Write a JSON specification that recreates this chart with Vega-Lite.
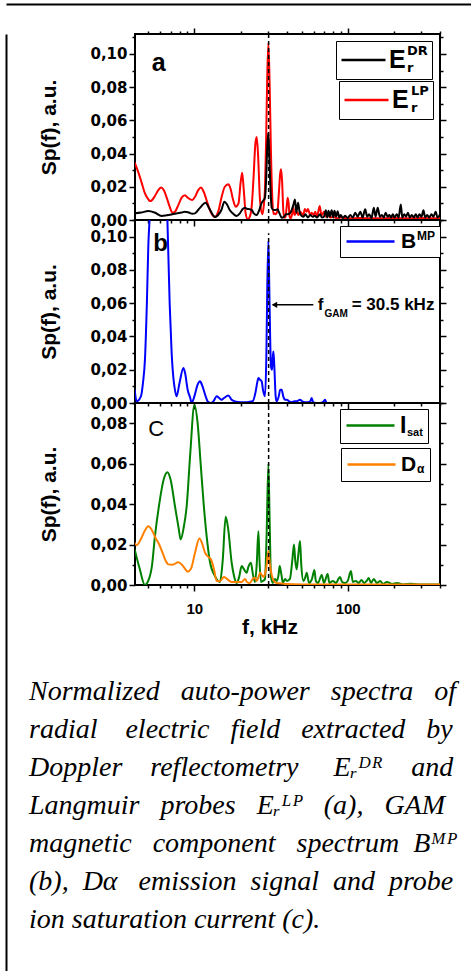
{
  "$schema": "https://vega.github.io/schema/vega-lite/v6.json",
  "padding": {"left": 6, "top": 4, "right": 0, "bottom": 0},
  "background": "white",
  "spacing": 0,
  "datasets": {
    "a": [
      {"s":"LP","f":4.08,"v":0.0345},{"s":"LP","f":4.3,"v":0.029},{"s":"LP","f":4.53,"v":0.0225},{"s":"LP","f":4.76,"v":0.016},{"s":"LP","f":5.01,"v":0.0125},{"s":"LP","f":5.13,"v":0.0114},{"s":"LP","f":5.27,"v":0.0118},{"s":"LP","f":5.53,"v":0.0145},{"s":"LP","f":5.82,"v":0.018},{"s":"LP","f":6.06,"v":0.0195},{"s":"LP","f":6.31,"v":0.018},{"s":"LP","f":6.6,"v":0.0135},{"s":"LP","f":6.9,"v":0.008},{"s":"LP","f":7.19,"v":0.0044},{"s":"LP","f":7.47,"v":0.005},{"s":"LP","f":7.86,"v":0.009},{"s":"LP","f":8.26,"v":0.0135},{"s":"LP","f":8.68,"v":0.0149},{"s":"LP","f":9.04,"v":0.0135},{"s":"LP","f":9.7,"v":0.012},{"s":"LP","f":10.1,"v":0.014},{"s":"LP","f":10.6,"v":0.018},{"s":"LP","f":11.04,"v":0.0195},{"s":"LP","f":11.5,"v":0.017},{"s":"LP","f":12.2,"v":0.01},{"s":"LP","f":12.9,"v":0.004},{"s":"LP","f":13.63,"v":0.0018},{"s":"LP","f":14.3,"v":0.005},{"s":"LP","f":15.07,"v":0.014},{"s":"LP","f":15.8,"v":0.02},{"s":"LP","f":16.67,"v":0.0215},{"s":"LP","f":17.2,"v":0.019},{"s":"LP","f":17.9,"v":0.012},{"s":"LP","f":18.6,"v":0.008},{"s":"LP","f":19.4,"v":0.01},{"s":"LP","f":20.0,"v":0.022},{"s":"LP","f":20.5,"v":0.0285},{"s":"LP","f":21.0,"v":0.018},{"s":"LP","f":21.6,"v":0.004},{"s":"LP","f":22.3,"v":0.0004},{"s":"LP","f":23.0,"v":0.002},{"s":"LP","f":23.65,"v":0.008},{"s":"LP","f":24.3,"v":0.025},{"s":"LP","f":25.0,"v":0.046},{"s":"LP","f":25.49,"v":0.05},{"s":"LP","f":26.0,"v":0.04},{"s":"LP","f":26.8,"v":0.012},{"s":"LP","f":27.77,"v":0.0034},{"s":"LP","f":28.3,"v":0.008},{"s":"LP","f":28.9,"v":0.02},{"s":"LP","f":29.4,"v":0.05},{"s":"LP","f":29.85,"v":0.085},{"s":"LP","f":30.39,"v":0.1068},{"s":"LP","f":30.99,"v":0.08},{"s":"LP","f":31.6,"v":0.04},{"s":"LP","f":32.27,"v":0.012},{"s":"LP","f":32.76,"v":0.0036},{"s":"LP","f":33.25,"v":0.004},{"s":"LP","f":33.9,"v":0.0035},{"s":"LP","f":34.9,"v":0.006},{"s":"LP","f":35.5,"v":0.015},{"s":"LP","f":36.3,"v":0.028},{"s":"LP","f":36.8,"v":0.0305},{"s":"LP","f":37.4,"v":0.022},{"s":"LP","f":38.0,"v":0.006},{"s":"LP","f":38.64,"v":0.0014},{"s":"LP","f":39.3,"v":0.002},{"s":"LP","f":40.0,"v":0.008},{"s":"LP","f":40.6,"v":0.0134},{"s":"LP","f":41.2,"v":0.01},{"s":"LP","f":41.8,"v":0.002},{"s":"LP","f":42.5,"v":0.001},{"s":"LP","f":43.5,"v":0.004},{"s":"LP","f":44.2,"v":0.0074},{"s":"LP","f":45,"v":0.003},{"s":"LP","f":46.5,"v":0.005},{"s":"LP","f":47.7,"v":0.003},{"s":"LP","f":48.9,"v":0.005},{"s":"LP","f":50.1,"v":0.004},{"s":"LP","f":51.4,"v":0.003},{"s":"LP","f":52.5,"v":0.0066},{"s":"LP","f":54,"v":0.005},{"s":"LP","f":55,"v":0.0066},{"s":"LP","f":57,"v":0.003},{"s":"LP","f":58.2,"v":0.0044},{"s":"LP","f":60,"v":0.003},{"s":"LP","f":61.5,"v":0.005},{"s":"LP","f":63,"v":0.002},{"s":"LP","f":65.7,"v":0.0084},{"s":"LP","f":67,"v":0.004},{"s":"LP","f":68,"v":0.003},{"s":"LP","f":70,"v":0.005},{"s":"LP","f":72,"v":0.002},{"s":"LP","f":74,"v":0.003},{"s":"LP","f":77,"v":0.0015},{"s":"LP","f":80,"v":0.002},{"s":"LP","f":85,"v":0.001},{"s":"LP","f":90,"v":0.0015},{"s":"LP","f":100,"v":0.001},{"s":"LP","f":120,"v":0.0012},{"s":"LP","f":150,"v":0.001},{"s":"LP","f":200,"v":0.0012},{"s":"LP","f":250,"v":0.001},{"s":"LP","f":300,"v":0.0012},{"s":"LP","f":350,"v":0.001},{"s":"LP","f":400,"v":0.001},
      {"s":"DR","f":4.08,"v":0.004},{"s":"DR","f":4.5,"v":0.0045},{"s":"DR","f":5.01,"v":0.0054},{"s":"DR","f":5.5,"v":0.0045},{"s":"DR","f":6.12,"v":0.0024},{"s":"DR","f":6.6,"v":0.0028},{"s":"DR","f":7.47,"v":0.0038},{"s":"DR","f":8.3,"v":0.0045},{"s":"DR","f":8.68,"v":0.005},{"s":"DR","f":9.2,"v":0.0045},{"s":"DR","f":9.7,"v":0.0038},{"s":"DR","f":10.1,"v":0.004},{"s":"DR","f":10.8,"v":0.007},{"s":"DR","f":11.85,"v":0.0104},{"s":"DR","f":12.5,"v":0.007},{"s":"DR","f":13.63,"v":0.0018},{"s":"DR","f":14.3,"v":0.003},{"s":"DR","f":15.0,"v":0.006},{"s":"DR","f":15.7,"v":0.011},{"s":"DR","f":16.3,"v":0.0095},{"s":"DR","f":17.0,"v":0.006},{"s":"DR","f":17.8,"v":0.004},{"s":"DR","f":18.88,"v":0.0024},{"s":"DR","f":19.8,"v":0.004},{"s":"DR","f":20.6,"v":0.0065},{"s":"DR","f":21.38,"v":0.0074},{"s":"DR","f":22,"v":0.0068},{"s":"DR","f":23.05,"v":0.0064},{"s":"DR","f":23.7,"v":0.006},{"s":"DR","f":24.4,"v":0.004},{"s":"DR","f":25.49,"v":0.003},{"s":"DR","f":26.5,"v":0.006},{"s":"DR","f":27.5,"v":0.0104},{"s":"DR","f":28.3,"v":0.012},{"s":"DR","f":28.87,"v":0.0134},{"s":"DR","f":29.4,"v":0.025},{"s":"DR","f":29.9,"v":0.045},{"s":"DR","f":30.39,"v":0.0526},{"s":"DR","f":30.9,"v":0.035},{"s":"DR","f":31.5,"v":0.015},{"s":"DR","f":31.93,"v":0.0074},{"s":"DR","f":32.8,"v":0.006},{"s":"DR","f":33.9,"v":0.006},{"s":"DR","f":34.9,"v":0.0064},{"s":"DR","f":35.5,"v":0.005},{"s":"DR","f":36.5,"v":0.0025},{"s":"DR","f":37.1,"v":0.0014},{"s":"DR","f":38.5,"v":0.002},{"s":"DR","f":39.5,"v":0.0034},{"s":"DR","f":40.6,"v":0.0034},{"s":"DR","f":42,"v":0.004},{"s":"DR","f":43.1,"v":0.006},{"s":"DR","f":44.2,"v":0.009},{"s":"DR","f":45.32,"v":0.0124},{"s":"DR","f":46.2,"v":0.0044},{"s":"DR","f":47.5,"v":0.0104},{"s":"DR","f":48.5,"v":0.005},{"s":"DR","f":50.1,"v":0.0024},{"s":"DR","f":51.5,"v":0.002},{"s":"DR","f":53,"v":0.0035},{"s":"DR","f":55,"v":0.0015},{"s":"DR","f":57,"v":0.003},{"s":"DR","f":59,"v":0.002},{"s":"DR","f":61,"v":0.0025},{"s":"DR","f":63,"v":0.0015},{"s":"DR","f":66,"v":0.0035},{"s":"DR","f":68,"v":0.0015},{"s":"DR","f":70,"v":0.002},{"s":"DR","f":72,"v":0.0058},{"s":"DR","f":73.5,"v":0.0015},{"s":"DR","f":75,"v":0.0055},{"s":"DR","f":76.5,"v":0.002},{"s":"DR","f":78.6,"v":0.0058},{"s":"DR","f":80.5,"v":0.0015},{"s":"DR","f":82,"v":0.0055},{"s":"DR","f":84,"v":0.002},{"s":"DR","f":86,"v":0.0052},{"s":"DR","f":88,"v":0.0015},{"s":"DR","f":90,"v":0.003},{"s":"DR","f":93,"v":0.0012},{"s":"DR","f":96,"v":0.0025},{"s":"DR","f":100,"v":0.0012},{"s":"DR","f":104,"v":0.003},{"s":"DR","f":108,"v":0.0015},{"s":"DR","f":112,"v":0.0044},{"s":"DR","f":116,"v":0.002},{"s":"DR","f":121,"v":0.005},{"s":"DR","f":125,"v":0.0015},{"s":"DR","f":130,"v":0.0064},{"s":"DR","f":134,"v":0.002},{"s":"DR","f":138,"v":0.0035},{"s":"DR","f":143,"v":0.0012},{"s":"DR","f":148,"v":0.0074},{"s":"DR","f":152,"v":0.002},{"s":"DR","f":157,"v":0.0074},{"s":"DR","f":162,"v":0.002},{"s":"DR","f":167,"v":0.003},{"s":"DR","f":172,"v":0.0015},{"s":"DR","f":177,"v":0.0044},{"s":"DR","f":182,"v":0.002},{"s":"DR","f":187,"v":0.003},{"s":"DR","f":192,"v":0.0015},{"s":"DR","f":197,"v":0.0035},{"s":"DR","f":202,"v":0.0015},{"s":"DR","f":209,"v":0.0035},{"s":"DR","f":215,"v":0.0015},{"s":"DR","f":222,"v":0.0094},{"s":"DR","f":227,"v":0.0015},{"s":"DR","f":234,"v":0.0035},{"s":"DR","f":240,"v":0.002},{"s":"DR","f":247,"v":0.0044},{"s":"DR","f":254,"v":0.0015},{"s":"DR","f":262,"v":0.003},{"s":"DR","f":270,"v":0.0015},{"s":"DR","f":278,"v":0.0035},{"s":"DR","f":286,"v":0.0015},{"s":"DR","f":294,"v":0.0035},{"s":"DR","f":303,"v":0.002},{"s":"DR","f":312,"v":0.0058},{"s":"DR","f":320,"v":0.0015},{"s":"DR","f":330,"v":0.003},{"s":"DR","f":340,"v":0.0015},{"s":"DR","f":352,"v":0.0035},{"s":"DR","f":362,"v":0.002},{"s":"DR","f":375,"v":0.005},{"s":"DR","f":385,"v":0.0015},{"s":"DR","f":398,"v":0.003}
    ],
    "b": [
      {"s":"MP","f":4.08,"v":0.008},{"s":"MP","f":4.2,"v":0.001},{"s":"MP","f":4.48,"v":0.004},{"s":"MP","f":4.62,"v":0.012},{"s":"MP","f":4.76,"v":0.026},{"s":"MP","f":4.9,"v":0.06},{"s":"MP","f":5.01,"v":0.095},{"s":"MP","f":5.13,"v":0.115},{"s":"MP","f":5.3,"v":0.16},{"s":"MP","f":5.53,"v":0.2},{"s":"MP","f":5.82,"v":0.21},{"s":"MP","f":6.1,"v":0.19},{"s":"MP","f":6.4,"v":0.15},{"s":"MP","f":6.67,"v":0.11},{"s":"MP","f":6.9,"v":0.06},{"s":"MP","f":7.11,"v":0.03},{"s":"MP","f":7.3,"v":0.015},{"s":"MP","f":7.41,"v":0.01},{"s":"MP","f":7.66,"v":0.004},{"s":"MP","f":8.0,"v":0.012},{"s":"MP","f":8.48,"v":0.021},{"s":"MP","f":8.7,"v":0.018},{"s":"MP","f":9.04,"v":0.008},{"s":"MP","f":9.4,"v":0.003},{"s":"MP","f":9.6,"v":0.0},{"s":"MP","f":10.0,"v":0.004},{"s":"MP","f":10.5,"v":0.011},{"s":"MP","f":10.88,"v":0.013},{"s":"MP","f":11.3,"v":0.01},{"s":"MP","f":11.85,"v":0.004},{"s":"MP","f":12.21,"v":0.001},{"s":"MP","f":12.8,"v":0.0},{"s":"MP","f":13.3,"v":0.001},{"s":"MP","f":14.0,"v":0.004},{"s":"MP","f":14.5,"v":0.003},{"s":"MP","f":15.07,"v":0.002},{"s":"MP","f":15.6,"v":0.003},{"s":"MP","f":16.67,"v":0.0045},{"s":"MP","f":17.5,"v":0.002},{"s":"MP","f":18.4,"v":0.001},{"s":"MP","f":20,"v":0.0005},{"s":"MP","f":22,"v":0.0005},{"s":"MP","f":24,"v":0.001},{"s":"MP","f":25.0,"v":0.006},{"s":"MP","f":25.8,"v":0.013},{"s":"MP","f":26.16,"v":0.015},{"s":"MP","f":26.8,"v":0.014},{"s":"MP","f":27.48,"v":0.013},{"s":"MP","f":28.0,"v":0.008},{"s":"MP","f":28.87,"v":0.004},{"s":"MP","f":29.5,"v":0.03},{"s":"MP","f":29.9,"v":0.07},{"s":"MP","f":30.39,"v":0.0974},{"s":"MP","f":30.8,"v":0.07},{"s":"MP","f":31.2,"v":0.04},{"s":"MP","f":31.6,"v":0.022},{"s":"MP","f":32.1,"v":0.02},{"s":"MP","f":32.5,"v":0.028},{"s":"MP","f":32.8,"v":0.031},{"s":"MP","f":33.3,"v":0.02},{"s":"MP","f":33.9,"v":0.004},{"s":"MP","f":34.42,"v":0.001},{"s":"MP","f":35.5,"v":0.004},{"s":"MP","f":36.3,"v":0.008},{"s":"MP","f":37.1,"v":0.008},{"s":"MP","f":38,"v":0.004},{"s":"MP","f":39,"v":0.002},{"s":"MP","f":40.0,"v":0.002},{"s":"MP","f":41.5,"v":0.001},{"s":"MP","f":43.1,"v":0.0005},{"s":"MP","f":45,"v":0.001},{"s":"MP","f":46.5,"v":0.001},{"s":"MP","f":48.86,"v":0.002},{"s":"MP","f":50.5,"v":0.001},{"s":"MP","f":52.5,"v":0.0005},{"s":"MP","f":55,"v":0.0005},{"s":"MP","f":57,"v":0.001},{"s":"MP","f":58.2,"v":0.003},{"s":"MP","f":59.5,"v":0.0005},{"s":"MP","f":62,"v":0.0},{"s":"MP","f":66,"v":0.0},{"s":"MP","f":69,"v":0.0005},{"s":"MP","f":71.1,"v":0.002},{"s":"MP","f":73,"v":0.0},{"s":"MP","f":80,"v":0.0},{"s":"MP","f":100,"v":0.0},{"s":"MP","f":400,"v":0.0}
    ],
    "c": [
      {"s":"I","f":4.08,"v":0.0176},{"s":"I","f":4.4,"v":0.008},{"s":"I","f":4.76,"v":0.0},{"s":"I","f":5.0,"v":0.002},{"s":"I","f":5.3,"v":0.01},{"s":"I","f":5.53,"v":0.024},{"s":"I","f":5.9,"v":0.04},{"s":"I","f":6.3,"v":0.052},{"s":"I","f":6.67,"v":0.0557},{"s":"I","f":7.0,"v":0.052},{"s":"I","f":7.47,"v":0.039},{"s":"I","f":7.9,"v":0.028},{"s":"I","f":8.14,"v":0.0225},{"s":"I","f":8.5,"v":0.028},{"s":"I","f":8.91,"v":0.039},{"s":"I","f":9.4,"v":0.065},{"s":"I","f":10.0,"v":0.089},{"s":"I","f":10.5,"v":0.08},{"s":"I","f":10.99,"v":0.06},{"s":"I","f":11.5,"v":0.04},{"s":"I","f":12.03,"v":0.024},{"s":"I","f":12.6,"v":0.012},{"s":"I","f":13.63,"v":0.0044},{"s":"I","f":14.69,"v":0.0015},{"s":"I","f":15.3,"v":0.012},{"s":"I","f":16.0,"v":0.0337},{"s":"I","f":16.6,"v":0.028},{"s":"I","f":17.51,"v":0.011},{"s":"I","f":18.2,"v":0.004},{"s":"I","f":18.88,"v":0.001},{"s":"I","f":19.6,"v":0.004},{"s":"I","f":20.35,"v":0.0094},{"s":"I","f":21,"v":0.008},{"s":"I","f":21.94,"v":0.006},{"s":"I","f":22.5,"v":0.009},{"s":"I","f":23.4,"v":0.011},{"s":"I","f":24.0,"v":0.006},{"s":"I","f":24.85,"v":0.0015},{"s":"I","f":25.5,"v":0.01},{"s":"I","f":26.16,"v":0.0266},{"s":"I","f":26.6,"v":0.012},{"s":"I","f":27.2,"v":0.0015},{"s":"I","f":28.0,"v":0.002},{"s":"I","f":28.87,"v":0.003},{"s":"I","f":29.6,"v":0.025},{"s":"I","f":30.39,"v":0.06},{"s":"I","f":31.0,"v":0.03},{"s":"I","f":31.6,"v":0.004},{"s":"I","f":32.5,"v":0.001},{"s":"I","f":33.5,"v":0.003},{"s":"I","f":34.5,"v":0.002},{"s":"I","f":35.4,"v":0.005},{"s":"I","f":36.0,"v":0.0094},{"s":"I","f":36.8,"v":0.006},{"s":"I","f":37.8,"v":0.001},{"s":"I","f":39,"v":0.003},{"s":"I","f":40.2,"v":0.002},{"s":"I","f":42,"v":0.003},{"s":"I","f":43.5,"v":0.012},{"s":"I","f":44.64,"v":0.02},{"s":"I","f":45.5,"v":0.012},{"s":"I","f":46.5,"v":0.0077},{"s":"I","f":47.5,"v":0.014},{"s":"I","f":48.86,"v":0.0217},{"s":"I","f":49.8,"v":0.01},{"s":"I","f":51.4,"v":0.002},{"s":"I","f":53,"v":0.004},{"s":"I","f":54.0,"v":0.006},{"s":"I","f":56,"v":0.001},{"s":"I","f":58.5,"v":0.003},{"s":"I","f":60.65,"v":0.0074},{"s":"I","f":62,"v":0.002},{"s":"I","f":64,"v":0.001},{"s":"I","f":67.7,"v":0.005},{"s":"I","f":70,"v":0.001},{"s":"I","f":74,"v":0.0054},{"s":"I","f":76,"v":0.001},{"s":"I","f":80,"v":0.002},{"s":"I","f":84,"v":0.001},{"s":"I","f":87,"v":0.003},{"s":"I","f":89.1,"v":0.004},{"s":"I","f":92,"v":0.0015},{"s":"I","f":96,"v":0.001},{"s":"I","f":100,"v":0.002},{"s":"I","f":105,"v":0.0069},{"s":"I","f":108,"v":0.0015},{"s":"I","f":113,"v":0.002},{"s":"I","f":118,"v":0.001},{"s":"I","f":123,"v":0.0025},{"s":"I","f":128,"v":0.001},{"s":"I","f":133,"v":0.002},{"s":"I","f":137,"v":0.0035},{"s":"I","f":142,"v":0.001},{"s":"I","f":148,"v":0.003},{"s":"I","f":155,"v":0.001},{"s":"I","f":163,"v":0.002},{"s":"I","f":170,"v":0.0005},{"s":"I","f":180,"v":0.0015},{"s":"I","f":195,"v":0.0005},{"s":"I","f":210,"v":0.001},{"s":"I","f":230,"v":0.0003},{"s":"I","f":260,"v":0.0006},{"s":"I","f":300,"v":0.0002},{"s":"I","f":350,"v":0.0003},{"s":"I","f":400,"v":0.0002},
      {"s":"D","f":4.08,"v":0.0209},{"s":"D","f":4.2,"v":0.0197},{"s":"D","f":4.5,"v":0.023},{"s":"D","f":4.76,"v":0.027},{"s":"D","f":5.01,"v":0.029},{"s":"D","f":5.3,"v":0.027},{"s":"D","f":5.6,"v":0.023},{"s":"D","f":5.82,"v":0.0209},{"s":"D","f":6.2,"v":0.016},{"s":"D","f":6.5,"v":0.012},{"s":"D","f":6.77,"v":0.0102},{"s":"D","f":7.2,"v":0.01},{"s":"D","f":7.86,"v":0.0113},{"s":"D","f":8.3,"v":0.01},{"s":"D","f":8.7,"v":0.008},{"s":"D","f":9.04,"v":0.0066},{"s":"D","f":9.5,"v":0.008},{"s":"D","f":10.1,"v":0.016},{"s":"D","f":10.78,"v":0.023},{"s":"D","f":11.3,"v":0.02},{"s":"D","f":11.73,"v":0.016},{"s":"D","f":12.3,"v":0.014},{"s":"D","f":12.83,"v":0.0127},{"s":"D","f":13.4,"v":0.008},{"s":"D","f":13.98,"v":0.002},{"s":"D","f":14.7,"v":0.002},{"s":"D","f":15.6,"v":0.004},{"s":"D","f":16.3,"v":0.003},{"s":"D","f":17.51,"v":0.0015},{"s":"D","f":18.9,"v":0.0015},{"s":"D","f":20.35,"v":0.0015},{"s":"D","f":21.4,"v":0.003},{"s":"D","f":22.0,"v":0.0015},{"s":"D","f":23,"v":0.001},{"s":"D","f":24,"v":0.003},{"s":"D","f":24.85,"v":0.0036},{"s":"D","f":25.5,"v":0.002},{"s":"D","f":26.2,"v":0.004},{"s":"D","f":26.8,"v":0.006},{"s":"D","f":27.5,"v":0.005},{"s":"D","f":28.3,"v":0.004},{"s":"D","f":28.87,"v":0.0053},{"s":"D","f":29.5,"v":0.009},{"s":"D","f":30.39,"v":0.0168},{"s":"D","f":31.0,"v":0.011},{"s":"D","f":31.93,"v":0.005},{"s":"D","f":33,"v":0.002},{"s":"D","f":34.42,"v":0.001},{"s":"D","f":37,"v":0.0008},{"s":"D","f":40,"v":0.0005},{"s":"D","f":50,"v":0.0003},{"s":"D","f":100,"v":0.0002},{"s":"D","f":400,"v":0.0002}
    ]
  },
  "vconcat": [
    {
      "width": 465,
      "height": 1,
      "view": {"stroke": null},
      "data": {"values": []},
      "mark": "point",
      "encoding": {
        "x": {"field": "px", "type": "quantitative", "scale": {"domain": [0, 1]}, "axis": {"orient": "top", "ticks": false, "labels": false, "title": null, "domain": true, "domainColor": "black", "domainWidth": 2, "grid": false}}
      }
    },
    {
      "spacing": 0,
      "hconcat": [
        {
          "width": 22,
          "height": 965,
          "view": {"stroke": null},
          "data": {"values": []},
          "mark": "point",
          "encoding": {
            "y": {"field": "py", "type": "quantitative", "scale": {"domain": [0, 1]}, "axis": {"orient": "left", "ticks": false, "labels": false, "title": null, "domain": true, "domainColor": "black", "domainWidth": 2, "grid": false}}
          }
        },
        {
          "spacing": 0,
          "bounds": "flush",
          "title": {
            "text": [
              "Normalized\u00a0\u00a0\u00a0auto-power\u00a0\u00a0\u00a0spectra\u00a0\u00a0\u00a0of",
              "radial\u00a0\u00a0\u00a0\u00a0electric\u00a0\u00a0\u00a0field\u00a0\u00a0\u00a0extracted\u00a0\u00a0\u00a0by",
              "Doppler\u00a0\u00a0\u00a0\u00a0reflectometry\u00a0\u00a0\u00a0\u00a0\u00a0E\u1d63\u1d30\u1d3f\u00a0\u00a0\u00a0\u00a0and",
              "Langmuir\u00a0\u00a0\u00a0probes\u00a0\u00a0\u00a0E\u1d63\u1d38\u1d3e\u00a0\u00a0\u00a0(a),\u00a0\u00a0\u00a0GAM",
              "magnetic\u00a0\u00a0\u00a0component\u00a0\u00a0\u00a0spectrum\u00a0\u00a0B\u1d39\u1d3e",
              "(b),\u00a0\u00a0D\u03b1\u00a0\u00a0\u00a0emission\u00a0\u00a0signal\u00a0\u00a0and\u00a0\u00a0probe",
              "ion saturation current (c)."
            ],
            "orient": "bottom", "anchor": "start", "frame": "bounds",
            "font": "Liberation Serif", "fontSize": 28, "fontStyle": "italic", "fontWeight": "normal",
            "lineHeight": 38, "color": "black", "offset": 40, "dx": -9, "baseline": "top"
          },
          "vconcat": [
            {
              "width": 305, "height": 186,
              "resolve": {"scale": {"color": "independent"}, "axis": {"x": "independent", "y": "independent"}, "legend": {"color": "independent"}},
              "layer": [
                {
                  "data": {"name": "a"},
                  "transform": [{"filter": "datum.s == 'LP'"}],
                  "mark": {"type": "line", "strokeWidth": 2, "clip": true, "interpolate": "monotone"},
                  "encoding": {
                    "x": {"field": "f", "type": "quantitative", "scale": {"type": "log", "domain": [4.1, 400], "nice": false},
                          "axis": {"orient": "bottom", "values": [5,6,7,8,9,10,20,30,40,50,60,70,80,90,100,200,300,400], "labels": false, "title": null,
                                   "tickSize": {"condition": {"test": "datum.value == 10 || datum.value == 100", "value": 6}, "value": 3}}},
                    "y": {"field": "v", "type": "quantitative", "scale": {"domain": [0, 0.112], "nice": false, "zero": false},
                          "axis": {"orient": "left", "values": [0,0.01,0.02,0.03,0.04,0.05,0.06,0.07,0.08,0.09,0.1,0.11],
                                   "labelExpr": "round(datum.value*100) % 2 == 0 ? replace(format(datum.value, '.2f'), '.', ',') : ''",
                                   "tickSize": {"condition": {"test": "round(datum.value*100) % 2 == 0", "value": 6}, "value": 3},
                                   "labelFont": "DejaVu Sans", "labelFontSize": 15,
                                   "labelOverlap": false, "labelFlush": false, "labelPadding": 2, "minExtent": 45, "titlePadding": 30, "title": "Sp(f), a.u."}},
                    "color": {"field": "s", "type": "nominal", "scale": {"domain": ["LP"], "range": ["#ff0000"]},
                              "legend": {"orient": "none", "legendX": 204, "legendY": 47, "padding": 4, "clipHeight": 30, "labelExpr": "'E'",
                                         "title": ["LP", "r"], "titleOrient": "right", "titleAnchor": "start", "titleBaseline": "top", "titleAlign": "left",
                                         "titleFont": "DejaVu Sans", "titleFontSize": 13, "titleFontWeight": "bold", "titleLineHeight": 17, "titlePadding": 2, "titleColor": "black"}}
                  }
                },
                {
                  "data": {"name": "a"},
                  "transform": [{"filter": "datum.s == 'DR'"}],
                  "mark": {"type": "line", "strokeWidth": 2, "clip": true, "interpolate": "monotone"},
                  "encoding": {
                    "x": {"field": "f", "type": "quantitative", "axis": null},
                    "y": {"field": "v", "type": "quantitative", "axis": null},
                    "color": {"field": "s", "type": "nominal", "scale": {"domain": ["DR"], "range": ["#000000"]},
                              "legend": {"orient": "none", "legendX": 201, "legendY": 7, "padding": 4, "clipHeight": 30, "labelExpr": "'E'",
                                         "title": ["DR", "r"], "titleOrient": "right", "titleAnchor": "start", "titleBaseline": "top", "titleAlign": "left",
                                         "titleFont": "DejaVu Sans", "titleFontSize": 13, "titleFontWeight": "bold", "titleLineHeight": 17, "titlePadding": 1, "titleColor": "black"}}
                  }
                },
                {
                  "data": {"name": "a"},
                  "mark": {"type": "line", "opacity": 0},
                  "encoding": {
                    "x": {"field": "f", "type": "quantitative",
                          "axis": {"orient": "top", "values": [5,6,7,8,9,10,20,30,40,50,60,70,80,90,100,200,300,400], "labels": false,
                                   "title": "\u00a0", "titleFontSize": 10, "titlePadding": 11,
                                   "tickSize": {"condition": {"test": "datum.value == 10 || datum.value == 100", "value": 6}, "value": 3}}},
                    "y": {"field": "v", "type": "quantitative",
                          "axis": {"orient": "right", "values": [0,0.01,0.02,0.03,0.04,0.05,0.06,0.07,0.08,0.09,0.1,0.11], "labels": false, "title": null,
                                   "tickSize": {"condition": {"test": "round(datum.value*100) % 2 == 0", "value": 6}, "value": 3}}},
                    "detail": {"field": "s"}
                  }
                },
                {
                  "data": {"values": [{}]},
                  "mark": {"type": "rule", "strokeDash": [4, 3], "strokeWidth": 1.5, "color": "black"},
                  "encoding": {"x": {"datum": 30.5, "type": "quantitative", "axis": null}, "y": {"datum": 0, "type": "quantitative", "axis": null}, "y2": {"datum": 0.112}}
                },
                {
                  "data": {"values": [{}]},
                  "mark": {"type": "text", "text": "a", "font": "Liberation Sans", "fontSize": 25, "fontWeight": "bold", "align": "left", "baseline": "middle", "color": "black"},
                  "encoding": {"x": {"datum": 5.27, "type": "quantitative", "axis": null}, "y": {"datum": 0.0946, "type": "quantitative", "axis": null}}
                }
              ]
            },
            {
              "width": 305, "height": 183,
              "resolve": {"scale": {"color": "independent"}, "axis": {"x": "independent", "y": "independent"}, "legend": {"color": "independent"}},
              "layer": [
                {
                  "data": {"name": "b"},
                  "mark": {"type": "line", "strokeWidth": 2, "clip": true, "interpolate": "monotone"},
                  "encoding": {
                    "x": {"field": "f", "type": "quantitative", "scale": {"type": "log", "domain": [4.1, 400], "nice": false},
                          "axis": {"orient": "bottom", "values": [5,6,7,8,9,10,20,30,40,50,60,70,80,90,100,200,300,400], "labels": false, "title": null,
                                   "tickSize": {"condition": {"test": "datum.value == 10 || datum.value == 100", "value": 6}, "value": 3}}},
                    "y": {"field": "v", "type": "quantitative", "scale": {"domain": [0, 0.11], "nice": false, "zero": false},
                          "axis": {"orient": "left", "values": [0,0.01,0.02,0.03,0.04,0.05,0.06,0.07,0.08,0.09,0.1,0.11],
                                   "labelExpr": "round(datum.value*100) % 2 == 0 ? replace(format(datum.value, '.2f'), '.', ',') : ''",
                                   "tickSize": {"condition": {"test": "round(datum.value*100) % 2 == 0", "value": 6}, "value": 3},
                                   "labelFont": "DejaVu Sans", "labelFontSize": 15,
                                   "labelOverlap": false, "labelFlush": false, "labelPadding": 2, "minExtent": 45, "titlePadding": 30, "title": "Sp(f), a.u."}},
                    "color": {"field": "s", "type": "nominal", "scale": {"domain": ["MP"], "range": ["#0000ff"]},
                              "legend": {"orient": "none", "legendX": 205, "legendY": 6, "padding": 5, "clipHeight": 21, "labelFontSize": 21, "symbolSize": 2304, "labelOffset": 5, "labelExpr": "'B'",
                                         "title": "MP", "titleOrient": "right", "titleAnchor": "start", "titleBaseline": "top", "titleAlign": "left",
                                         "titleFont": "Liberation Sans", "titleFontSize": 12, "titleFontWeight": "bold", "titlePadding": 1, "titleColor": "black"}}
                  }
                },
                {
                  "data": {"name": "b"},
                  "mark": {"type": "line", "opacity": 0},
                  "encoding": {
                    "x": {"field": "f", "type": "quantitative", "axis": null},
                    "y": {"field": "v", "type": "quantitative",
                          "axis": {"orient": "right", "values": [0,0.01,0.02,0.03,0.04,0.05,0.06,0.07,0.08,0.09,0.1,0.11], "labels": false, "title": null,
                                   "tickSize": {"condition": {"test": "round(datum.value*100) % 2 == 0", "value": 6}, "value": 3}}}
                  }
                },
                {
                  "data": {"values": [{}]},
                  "mark": {"type": "rule", "strokeDash": [4, 3], "strokeWidth": 1.5, "color": "black"},
                  "encoding": {"x": {"datum": 30.5, "type": "quantitative", "axis": null}, "y": {"datum": 0, "type": "quantitative", "axis": null}, "y2": {"datum": 0.102}}
                },
                {
                  "data": {"values": [{}]},
                  "mark": {"type": "rule", "strokeWidth": 1.5, "color": "black"},
                  "encoding": {"x": {"datum": 32.5, "type": "quantitative", "axis": null}, "x2": {"datum": 59.7}, "y": {"datum": 0.059, "type": "quantitative", "axis": null}}
                },
                {
                  "data": {"values": [{}]},
                  "mark": {"type": "point", "shape": "triangle-left", "filled": true, "color": "black", "opacity": 1, "size": 40},
                  "encoding": {"x": {"datum": 33.3, "type": "quantitative", "axis": null}, "y": {"datum": 0.059, "type": "quantitative", "axis": null}}
                },
                {
                  "data": {"values": [{}]},
                  "mark": {"type": "text", "text": "b", "font": "Liberation Sans", "fontSize": 24, "fontWeight": "bold", "align": "left", "baseline": "middle", "color": "black"},
                  "encoding": {"x": {"datum": 5.4, "type": "quantitative", "axis": null}, "y": {"datum": 0.0954, "type": "quantitative", "axis": null}}
                },
                {
                  "data": {"values": [{}]},
                  "mark": {"type": "text", "text": "f", "font": "Liberation Sans", "fontSize": 17, "fontWeight": "bold", "align": "left", "baseline": "middle", "color": "black"},
                  "encoding": {"x": {"datum": 63.7, "type": "quantitative", "axis": null}, "y": {"datum": 0.0592, "type": "quantitative", "axis": null}}
                },
                {
                  "data": {"values": [{}]},
                  "mark": {"type": "text", "text": "GAM", "font": "Liberation Sans", "fontSize": 10, "fontWeight": "bold", "align": "left", "baseline": "middle", "color": "black"},
                  "encoding": {"x": {"datum": 70.5, "type": "quantitative", "axis": null}, "y": {"datum": 0.0534, "type": "quantitative", "axis": null}}
                },
                {
                  "data": {"values": [{}]},
                  "mark": {"type": "text", "text": "= 30.5 kHz", "font": "Liberation Sans", "fontSize": 17, "fontWeight": "bold", "align": "left", "baseline": "middle", "color": "black"},
                  "encoding": {"x": {"datum": 106.2, "type": "quantitative", "axis": null}, "y": {"datum": 0.0592, "type": "quantitative", "axis": null}}
                }
              ]
            },
            {
              "width": 305, "height": 182,
              "resolve": {"scale": {"color": "independent"}, "axis": {"x": "independent", "y": "independent"}, "legend": {"color": "independent"}},
              "layer": [
                {
                  "data": {"name": "c"},
                  "transform": [{"filter": "datum.s == 'I'"}],
                  "mark": {"type": "line", "strokeWidth": 2, "clip": true, "interpolate": "monotone"},
                  "encoding": {
                    "x": {"field": "f", "type": "quantitative", "scale": {"type": "log", "domain": [4.1, 400], "nice": false},
                          "axis": {"orient": "bottom", "values": [5,6,7,8,9,10,20,30,40,50,60,70,80,90,100,200,300,400],
                                   "labelExpr": "datum.value == 10 || datum.value == 100 ? format(datum.value, 'd') : ''",
                                   "labelOverlap": false, "labelFlush": false, "labelPadding": 10, "titlePadding": 0, "titleX": 134.5,
                                   "title": "f, kHz",
                                   "tickSize": {"condition": {"test": "datum.value == 10 || datum.value == 100", "value": 6}, "value": 3}}},
                    "y": {"field": "v", "type": "quantitative", "scale": {"domain": [0, 0.09], "nice": false, "zero": false},
                          "axis": {"orient": "left", "values": [0,0.01,0.02,0.03,0.04,0.05,0.06,0.07,0.08,0.09],
                                   "labelExpr": "round(datum.value*100) % 2 == 0 ? replace(format(datum.value, '.2f'), '.', ',') : ''",
                                   "tickSize": {"condition": {"test": "round(datum.value*100) % 2 == 0", "value": 6}, "value": 3},
                                   "labelFont": "DejaVu Sans", "labelFontSize": 15,
                                   "labelOverlap": false, "labelFlush": false, "labelPadding": 2, "minExtent": 45, "titlePadding": 30, "title": "Sp(f), a.u."}},
                    "color": {"field": "s", "type": "nominal", "scale": {"domain": ["I"], "range": ["#008000"]},
                              "legend": {"orient": "none", "legendX": 205, "legendY": 6, "padding": 5, "clipHeight": 23, "labelFontSize": 23, "symbolSize": 2304, "labelOffset": 4, "labelExpr": "'I'",
                                         "title": "sat", "titleOrient": "right", "titleAnchor": "end", "titleBaseline": "bottom", "titleAlign": "left",
                                         "titleFont": "Liberation Sans", "titleFontSize": 11, "titleFontWeight": "bold", "titlePadding": 1, "titleColor": "black"}}
                  }
                },
                {
                  "data": {"name": "c"},
                  "transform": [{"filter": "datum.s == 'D'"}],
                  "mark": {"type": "line", "strokeWidth": 2, "clip": true, "interpolate": "monotone"},
                  "encoding": {
                    "x": {"field": "f", "type": "quantitative", "axis": null},
                    "y": {"field": "v", "type": "quantitative", "axis": null},
                    "color": {"field": "s", "type": "nominal", "scale": {"domain": ["D"], "range": ["#ff8000"]},
                              "legend": {"orient": "none", "legendX": 206, "legendY": 45, "padding": 5, "clipHeight": 23, "labelFontSize": 21, "symbolSize": 2304, "labelOffset": 4, "labelExpr": "'D'",
                                         "title": "\u03b1", "titleOrient": "right", "titleAnchor": "end", "titleBaseline": "bottom", "titleAlign": "left",
                                         "titleFont": "Liberation Sans", "titleFontSize": 12, "titleFontWeight": "bold", "titlePadding": 1, "titleColor": "black"}}
                  }
                },
                {
                  "data": {"name": "c"},
                  "mark": {"type": "line", "opacity": 0},
                  "encoding": {
                    "x": {"field": "f", "type": "quantitative", "axis": null},
                    "y": {"field": "v", "type": "quantitative",
                          "axis": {"orient": "right", "values": [0,0.01,0.02,0.03,0.04,0.05,0.06,0.07,0.08,0.09], "labels": false, "title": null,
                                   "tickSize": {"condition": {"test": "round(datum.value*100) % 2 == 0", "value": 6}, "value": 3}}},
                    "detail": {"field": "s"}
                  }
                },
                {
                  "data": {"values": [{}]},
                  "mark": {"type": "rule", "strokeDash": [4, 3], "strokeWidth": 1.5, "color": "black"},
                  "encoding": {"x": {"datum": 30.5, "type": "quantitative", "axis": null}, "y": {"datum": 0, "type": "quantitative", "axis": null}, "y2": {"datum": 0.09}}
                },
                {
                  "data": {"values": [{}]},
                  "mark": {"type": "text", "text": "C", "font": "Liberation Sans", "fontSize": 22, "fontWeight": "normal", "align": "left", "baseline": "middle", "color": "black"},
                  "encoding": {"x": {"datum": 5.01, "type": "quantitative", "axis": null}, "y": {"datum": 0.077, "type": "quantitative", "axis": null}}
                }
              ]
            }
          ]
        }
      ]
    }
  ],
  "config": {
    "view": {"stroke": "black", "strokeWidth": 2},
    "axis": {"domain": false, "grid": false, "tickColor": "black", "tickWidth": 1.5, "labelFont": "Liberation Sans", "labelFontWeight": "bold", "labelFontSize": 15, "labelColor": "black", "titleFont": "Liberation Sans", "titleFontWeight": "bold", "titleFontSize": 21, "titleColor": "black"},
    "legend": {"symbolType": "stroke", "symbolStrokeWidth": 2.5, "symbolSize": 1936, "labelFont": "Liberation Sans", "labelFontWeight": "bold", "labelFontSize": 25, "labelColor": "black", "strokeColor": "black", "fillColor": "white", "padding": 6, "labelOffset": 2, "cornerRadius": 0}
  }
}
